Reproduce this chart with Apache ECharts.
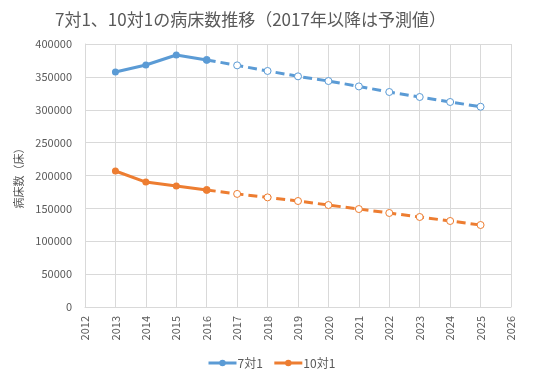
<!DOCTYPE html>
<html><head><meta charset="utf-8">
<script src="https://cdn.jsdelivr.net/npm/echarts@6/dist/echarts.min.js"></script>
<style>html,body{margin:0;padding:0;background:#fff}#c{width:536px;height:373px}</style>
</head><body><div id="c"></div>
<script>
var years = [2013,2014,2015,2016,2017,2018,2019,2020,2021,2022,2023,2024,2025];
var seven = [357500,368000,383300,375800,367500,359000,350800,343700,335500,327000,319400,311800,304600];
var ten = [206800,190000,184000,178000,172000,166700,161200,155100,149000,143000,136900,130800,124700];
var actualCount = 4; // 2013-2016 actual
var titleText = '7対1、10対1の病床数推移（2017年以降は予測値）';
var yName = '病床数（床）';

function pairs(vals, from, to){
  var out=[];
  for(var i=from;i<to;i++) out.push([years[i], vals[i]]);
  return out;
}
var font = '"Noto Sans CJK JP","Noto Sans",sans-serif';
var gray = '#595959';
var c1 = '#5B9BD5', c2 = '#ED7D31';
function solid(name, vals, color){
  return {name:name,type:'line',data:pairs(vals,0,actualCount),symbol:'circle',symbolSize:7,
    itemStyle:{color:color},lineStyle:{width:3,color:color},z:3};
}
function dashed(name, vals, color){
  return {name:name+'予測',type:'line',data:pairs(vals,actualCount-1,years.length),symbol:'circle',symbolSize:7,
    itemStyle:{color:'#fff',borderColor:color,borderWidth:1},lineStyle:{width:3,color:color,type:[9,5]},z:2};
}
var chart = echarts.init(document.getElementById('c'),null,{renderer:'canvas'});
chart.setOption({
  animation:false,
  title:{text:titleText,left:50,top:6,textStyle:{fontFamily:font,fontSize:17,fontWeight:'normal',color:gray}},
  legend:{data:[{name:'7対1'},{name:'10対1'}],top:352,left:202,itemWidth:28,itemHeight:8,itemGap:10,
    lineStyle:{width:3},
    textStyle:{fontFamily:font,fontSize:12,color:gray,padding:[0,0,0,-4]}},
  grid:{left:85,right:25,top:44,bottom:66},
  xAxis:{type:'value',min:2012,max:2026,interval:1,
    axisLine:{lineStyle:{color:'#d9d9d9'}},axisTick:{show:false},
    splitLine:{show:true,lineStyle:{color:'#d9d9d9'}},
    axisLabel:{rotate:90,margin:9,color:gray,fontFamily:font,fontSize:11,formatter:function(v){return String(v);}}},
  yAxis:{type:'value',min:0,max:400000,interval:50000,name:yName,nameLocation:'middle',nameGap:59,nameRotate:90,
    nameTextStyle:{fontFamily:font,fontSize:11,color:gray},
    axisLine:{show:true,lineStyle:{color:'#d9d9d9'}},axisTick:{show:false},
    splitLine:{lineStyle:{color:'#d9d9d9'}},
    axisLabel:{margin:13,color:gray,fontFamily:font,fontSize:11,formatter:function(v){return String(v);}}},
  series:[solid('7対1',seven,c1),solid('10対1',ten,c2),dashed('7対1',seven,c1),dashed('10対1',ten,c2)]
});
</script></body></html>
